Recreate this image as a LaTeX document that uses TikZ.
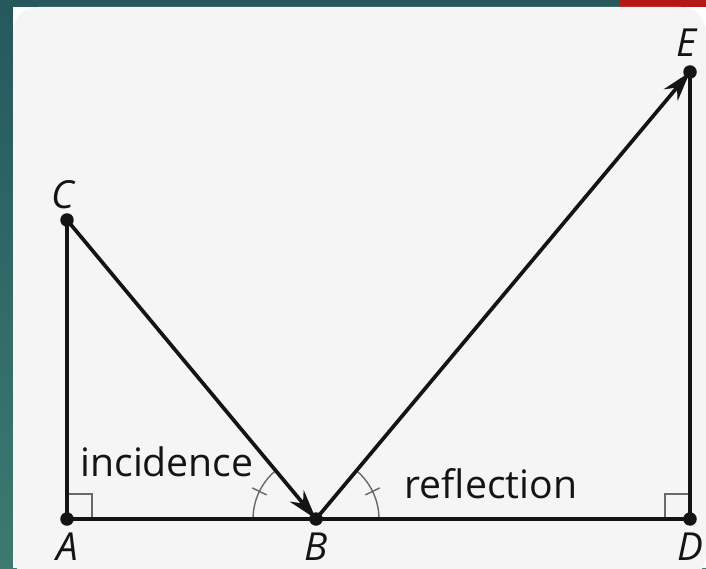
\documentclass[tikz,border=0pt]{standalone}
\usepackage{fontspec}
\setmainfont{Open Sans}
\usetikzlibrary{arrows.meta,positioning}
\definecolor{panel}{RGB}{245,245,245}
\definecolor{tealtop}{RGB}{38,88,94}
\definecolor{tealbot}{RGB}{60,122,112}
\definecolor{topred}{RGB}{182,24,24}
\definecolor{ink}{RGB}{20,20,20}
\definecolor{markgray}{RGB}{105,105,105}

\begin{document}
\begin{tikzpicture}[x=0.02cm,y=0.02cm,
  pt/.style={circle,fill=ink,inner sep=0pt,minimum size=0.27cm},
  lab/.style={font=\fontsize{22}{26}\selectfont\itshape,text=ink,inner sep=0pt},
  word/.style={font=\fontsize{22.3}{26}\selectfont,text=ink,inner sep=0pt},
  seg/.style={draw=ink,line width=2.1pt},
  ray/.style={seg,-{Stealth[length=0.6cm,width=0.36cm]}},
  mk/.style={draw=markgray,line width=0.8pt}]
  % frame
  \useasboundingbox (0,0) rectangle (706,568);
  \shade[top color=tealtop,bottom color=tealbot] (0,0) rectangle (706,568);
  \fill[topred] (620,561) rectangle (706,568);
  \fill[white] (13,0) rectangle (706,561);
  \fill[panel,rounded corners=0.5cm] (13,-12) rectangle (706,561);

  % points
  \node[pt] (A) at (67,49) {};
  \node[pt] (B) at (316,49) {};
  \node[pt] (D) at (690,49) {};
  \node[pt] (C) at (67,348) {};
  \node[pt] (E) at (690,496) {};

  % right angles
  \draw[mk] (A.center) ++(0,25) -- ++(25,0) -- ++(0,-25);
  \draw[mk] (D.center) ++(0,25) -- ++(-25,0) -- ++(0,-25);

  % equal angles at B
  \draw[mk] (B.center) ++(180:1.26cm) arc[start angle=180,end angle=129.8,radius=1.26cm];
  \draw[mk] (B.center) ++(154:1.1cm) -- ++(154:0.32cm);
  \draw[mk] (B.center) ++(0:1.26cm) arc[start angle=0,end angle=50.1,radius=1.26cm];
  \draw[mk] (B.center) ++(26:1.1cm) -- ++(26:0.32cm);

  % segments
  \draw[seg] (A.center) -- (D.center);
  \draw[seg] (A.center) -- (C.center);
  \draw[seg] (D.center) -- (E.center);
  \draw[ray] (C.center) -- (B.center);
  \draw[ray] (B.center) -- (E.center);

  % labels
  \node[lab,above=0.07cm of C,xshift=-0.08cm] (lC) {C};
  \node[lab,above=0.17cm of E,xshift=-0.08cm] (lE) {E};
  \node[lab,below=0.12cm of A] (lA) {A};
  \node[lab,below=0.12cm of B] (lB) {B};
  \node[lab,below=0.12cm of D] (lD) {D};
  \node[word] (inc) at (167,106) {incidence};
  \node[word] (refl) at (491,84) {reflection};
\end{tikzpicture}
\end{document}
